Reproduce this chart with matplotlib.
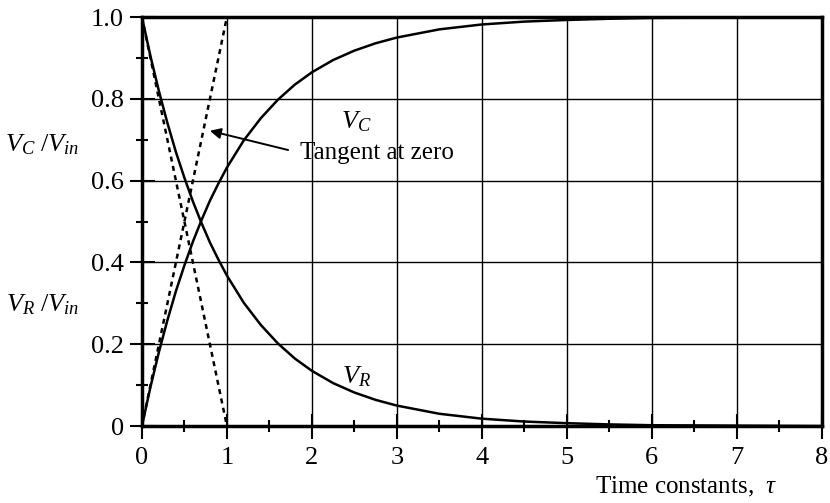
import matplotlib
matplotlib.use("Agg")
import matplotlib.pyplot as plt
from matplotlib.ticker import MultipleLocator

plt.rcParams['font.family'] = ['Liberation Serif', 'DejaVu Serif']
plt.rcParams['mathtext.fontset'] = 'custom'
plt.rcParams['mathtext.rm'] = 'Liberation Serif'
plt.rcParams['mathtext.it'] = 'Liberation Serif:italic'

# time in time constants, and the two normalised voltages
tau = [0, 0.1, 0.2, 0.3, 0.4, 0.5, 0.6, 0.7, 0.8, 0.9, 1.0,
       1.2, 1.4, 1.6, 1.8, 2.0, 2.25, 2.5, 2.75, 3.0,
       3.5, 4.0, 4.5, 5.0, 5.5, 6.0, 7.0, 8.0]
v_c = [0, 0.095, 0.181, 0.259, 0.330, 0.393, 0.451, 0.503, 0.551, 0.593, 0.632,
       0.699, 0.753, 0.798, 0.835, 0.865, 0.895, 0.918, 0.936, 0.950,
       0.970, 0.982, 0.989, 0.993, 0.996, 0.998, 0.999, 1.000]
v_r = [1, 0.905, 0.819, 0.741, 0.670, 0.607, 0.549, 0.497, 0.449, 0.407, 0.368,
       0.301, 0.247, 0.202, 0.165, 0.135, 0.105, 0.082, 0.064, 0.050,
       0.030, 0.018, 0.011, 0.007, 0.004, 0.002, 0.001, 0.000]

# tangents at zero
tan_x = [0, 1]
tan_c = [0, 1]
tan_r = [1, 0]

y_ticks = [0, 0.2, 0.4, 0.6, 0.8, 1.0]
y_labels = ['0', '0.2', '0.4', '0.6', '0.8', '1.0']

fig = plt.figure(figsize=(8.3, 5.03), dpi=100)
ax = fig.add_axes([0.171, 0.153, 0.819, 0.813])

ax.plot(tau, v_c, color='black', lw=1.8, zorder=3)
ax.plot(tau, v_r, color='black', lw=1.8, zorder=3)
ax.plot(tan_x, tan_c, color='black', lw=1.8, ls=(0, (2, 1.8)), zorder=3)
ax.plot(tan_x, tan_r, color='black', lw=1.8, ls=(0, (2, 1.8)), zorder=3)

ax.set_xlim(0, 8)
ax.set_ylim(0, 1)
ax.xaxis.set_major_locator(MultipleLocator(1))
ax.xaxis.set_minor_locator(MultipleLocator(0.5))
ax.yaxis.set_minor_locator(MultipleLocator(0.1))
ax.set_yticks(y_ticks)
ax.set_yticklabels(y_labels)
ax.grid(True, which='major', color='black', lw=1.0)
ax.tick_params(which='major', direction='inout', length=18, width=1.5, labelsize=19)
ax.tick_params(axis='x', which='major', pad=6)
ax.tick_params(axis='y', which='major', pad=4)
ax.tick_params(which='minor', direction='inout', length=9, width=1.5)
for s in ax.spines.values():
    s.set_linewidth(2.5)

ax.text(2.52, 0.745, r'$V_C$', fontsize=19, ha='center', va='center')
ax.text(2.52, 0.12, r'$V_R$', fontsize=19, ha='center', va='center')
ax.text(1.86, 0.667, 'Tangent at zero', fontsize=18, va='center', ha='left')
ax.annotate('', xy=(0.8, 0.722), xytext=(1.72, 0.675),
            arrowprops=dict(arrowstyle='-|>', color='black', lw=1.4,
                            mutation_scale=16, shrinkA=0, shrinkB=0))

fig.text(0.051, 0.712, r'$V_C\ /V_{in}$', fontsize=19, ha='center', va='center')
fig.text(0.051, 0.394, r'$V_R\ /V_{in}$', fontsize=19, ha='center', va='center')
fig.text(0.937, 0.032, r'Time constants,  $\tau$', fontsize=18, ha='right', va='center')

fig.savefig('out.png', dpi=100)
